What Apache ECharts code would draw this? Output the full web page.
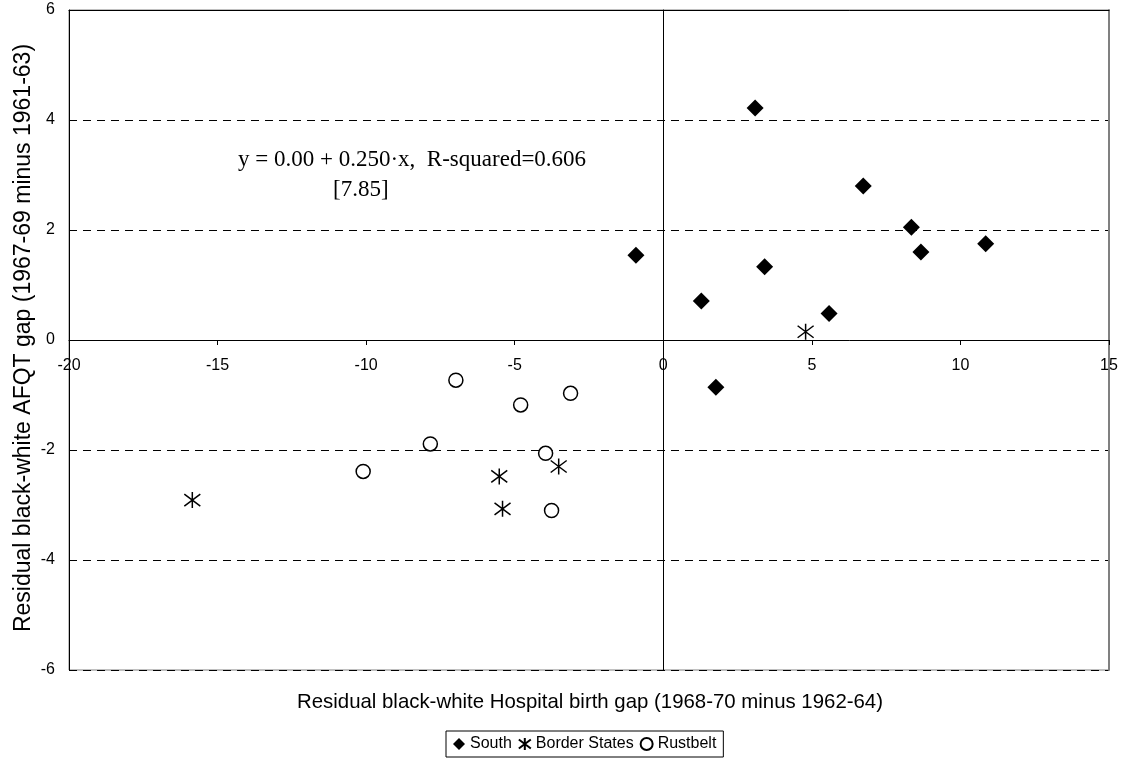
<!DOCTYPE html>
<html>
<head>
<meta charset="utf-8">
<script src="https://cdn.jsdelivr.net/npm/echarts@6/dist/echarts.min.js"></script>
<style>html,body{margin:0;padding:0;background:#fff}#c{width:1124px;height:761px}</style>
</head>
<body>
<div id="c"></div>
<script>
var southX = [-0.92, 3.09, 6.73, 8.35, 8.67, 10.85, 3.41, 1.28, 5.58, 1.77];
var southY = [1.54, 4.22, 2.80, 2.05, 1.60, 1.75, 1.33, 0.71, 0.48, -0.86];
var borderX = [-15.85, -5.52, -3.52, -5.41, 4.79];
var borderY = [-2.91, -2.48, -2.30, -3.07, 0.15];
var rustX = [-6.98, -3.12, -4.80, -7.84, -3.96, -10.10, -3.76];
var rustY = [-0.73, -0.97, -1.18, -1.89, -2.06, -2.39, -3.10];
var seriesNames = ['South', 'Border States', 'Rustbelt'];
var xTitle = 'Residual black-white Hospital birth gap (1968-70 minus 1962-64)';
var yTitle = 'Residual black-white AFQT gap (1967-69 minus 1961-63)';
var noteLine1 = 'y = 0.00 + 0.250\u00b7x,  R-squared=0.606';
var noteLine2 = '[7.85]';

function pairs(xs, ys) { return xs.map(function (x, i) { return [x, ys[i]]; }); }

var SANS = '"Liberation Sans", Arial, sans-serif';
var SERIF = '"Liberation Serif", "Times New Roman", serif';
var asterisk = 'path://M8,0L8,16M0,2L16,14M0,14L16,2';

var chart = echarts.init(document.getElementById('c'), null, {renderer: 'canvas'});
chart.setOption({
  animation: false,
  backgroundColor: '#fff',
  grid: {left: 69, right: 15, top: 10, bottom: 91, show: true, borderColor: '#808080', borderWidth: 1, backgroundColor: 'transparent'},
  xAxis: [
    {type: 'value', min: -20, max: 15, interval: 5, position: 'bottom',
     axisLine: {show: true, onZero: true, lineStyle: {color: '#000', width: 1}},
     axisTick: {show: true, length: 5, lineStyle: {color: '#000'}},
     axisLabel: {show: false},
     splitLine: {show: false}},
    {type: 'value', min: -20, max: 15, interval: 5, position: 'top',
     axisLine: {show: true, onZero: false, lineStyle: {color: '#000', width: 1}},
     axisTick: {show: false}, axisLabel: {show: false}, splitLine: {show: false}},
    {type: 'value', min: -20, max: 15, interval: 5, position: 'bottom', offset: -330,
     axisLine: {show: false, onZero: false},
     axisTick: {show: false},
     axisLabel: {show: true, margin: 18, fontSize: 16, color: '#000', fontFamily: SANS, showMinLabel: true, showMaxLabel: true},
     splitLine: {show: false}}
  ],
  yAxis: [
    {type: 'value', min: -6, max: 6, interval: 2, position: 'left',
     axisLine: {show: true, onZero: false, lineStyle: {color: '#000', width: 1}},
     axisTick: {show: false},
     axisLabel: {show: true, margin: 14, fontSize: 16, color: '#000', fontFamily: SANS, showMinLabel: true, showMaxLabel: true},
     splitLine: {show: true, lineStyle: {color: '#000', type: [8, 6], width: 1}}},
    {type: 'value', min: -6, max: 6, interval: 2, position: 'right',
     axisLine: {show: true, onZero: false, lineStyle: {color: '#808080', width: 2}},
     axisTick: {show: false}, axisLabel: {show: false}, splitLine: {show: false}},
    {type: 'value', min: -6, max: 6, interval: 2, position: 'left',
     axisLine: {show: true, onZero: true, lineStyle: {color: '#000', width: 1}},
     axisTick: {show: true, length: 5, lineStyle: {color: '#000'}},
     axisLabel: {show: false}, splitLine: {show: false}}
  ],
  legend: {
    data: seriesNames,
    left: 446, top: 731,
    orient: 'horizontal',
    padding: [5, 7, 5, 7],
    borderColor: '#000', borderWidth: 1,
    itemWidth: 12, itemHeight: 12, itemGap: 6,
    textStyle: {fontSize: 16, color: '#000', fontFamily: SANS}
  },
  graphic: [
    {type: 'text', x: 590, y: 702, style: {text: xTitle, font: '20.4px ' + SANS, fill: '#000', textAlign: 'center', textVerticalAlign: 'middle'}},
    {type: 'text', x: 24, y: 338, rotation: Math.PI / 2, style: {text: yTitle, font: '23px ' + SANS, fill: '#000', textAlign: 'center', textVerticalAlign: 'middle'}},
    {type: 'text', x: 238, y: 160, style: {text: noteLine1, font: '23px ' + SERIF, fill: '#000', textAlign: 'left', textVerticalAlign: 'middle'}},
    {type: 'text', x: 333, y: 190, style: {text: noteLine2, font: '23px ' + SERIF, fill: '#000', textAlign: 'left', textVerticalAlign: 'middle'}}
  ],
  series: [
    {name: seriesNames[0], type: 'scatter', xAxisIndex: 0, yAxisIndex: 0, symbol: 'diamond', symbolSize: 17,
     itemStyle: {color: '#000', opacity: 1}, data: pairs(southX, southY), z: 5},
    {name: seriesNames[1], type: 'scatter', xAxisIndex: 0, yAxisIndex: 0, symbol: asterisk, symbolSize: 16,
     itemStyle: {color: 'rgba(0,0,0,0)', borderColor: '#000', borderWidth: 1.5, opacity: 1}, data: pairs(borderX, borderY), z: 5},
    {name: seriesNames[2], type: 'scatter', xAxisIndex: 0, yAxisIndex: 0, symbol: 'circle', symbolSize: 14,
     itemStyle: {color: '#fff', borderColor: '#000', borderWidth: 1.5, opacity: 1}, data: pairs(rustX, rustY), z: 5}
  ]
});
</script>
</body>
</html>
